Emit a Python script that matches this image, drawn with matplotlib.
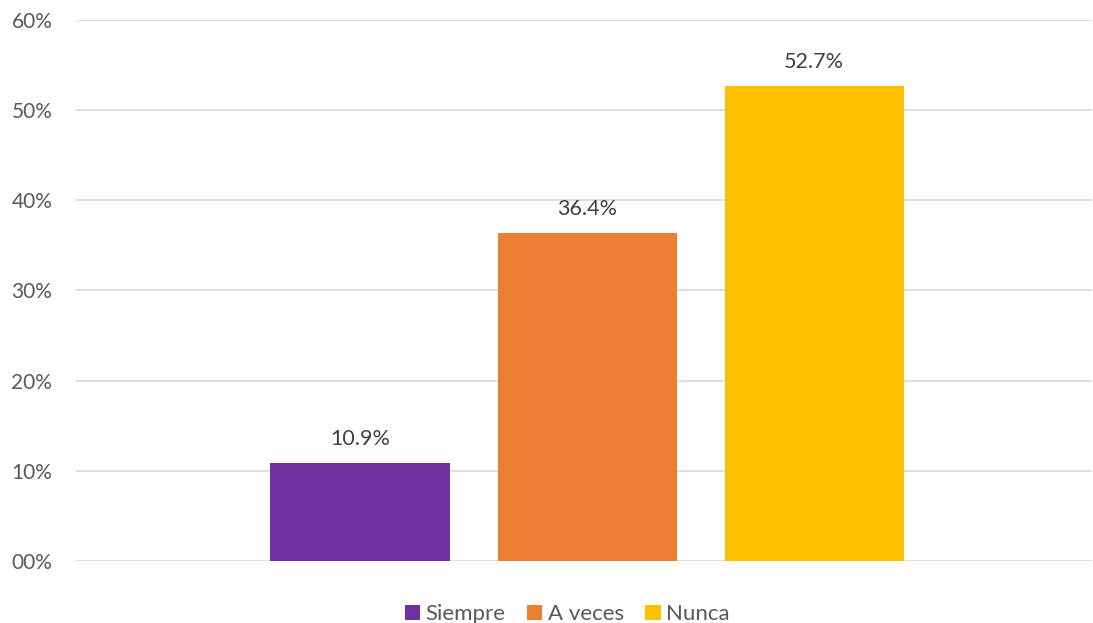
import matplotlib
matplotlib.use("Agg")
import matplotlib.pyplot as plt
from matplotlib.ticker import FuncFormatter
from matplotlib.patches import Patch

categories = ["Siempre", "A veces", "Nunca"]
values = [10.9, 36.4, 52.7]
colors = ["#7030A0", "#ED7D31", "#FFC000"]
y_ticks = [0, 10, 20, 30, 40, 50, 60]

plt.rcParams["font.family"] = ["Lato", "DejaVu Sans"]

fig = plt.figure(figsize=(10.93, 6.23), dpi=100)
ax = fig.add_axes([0.0695, 0.0995, 0.93, 0.8685])

x = list(range(len(categories)))
ax.bar(x, values, width=0.789, color=colors, zorder=3)

for xi, v in zip(x, values):
    ax.annotate(f"{v:.1f}%", (xi, v), xytext=(0, 10), textcoords="offset points",
                ha="center", va="bottom", fontsize=15.5, color="#404040")

ax.set_xlim(-1.251, 3.225)
ax.set_ylim(0, 60)
ax.set_yticks(y_ticks)
ax.yaxis.set_major_formatter(FuncFormatter(lambda v, p: f"{int(v):02d}%"))
ax.tick_params(axis="y", length=0, pad=17, labelsize=15, labelcolor="#595959")
ax.set_xticks([])
ax.grid(axis="y", color="#D9D9D9", linewidth=1.2, zorder=0)
for s in ax.spines.values():
    s.set_visible(False)

handles = [Patch(facecolor=c, label=l) for c, l in zip(colors, categories)]
leg = fig.legend(handles=handles, loc="lower center", bbox_to_anchor=(0.519, -0.034),
                 ncol=3, frameon=False, fontsize=16, handlelength=0.7,
                 handleheight=0.7, handletextpad=0.25, columnspacing=0.95)
for t in leg.get_texts():
    t.set_color("#595959")

fig.savefig("out.png", dpi=100)
